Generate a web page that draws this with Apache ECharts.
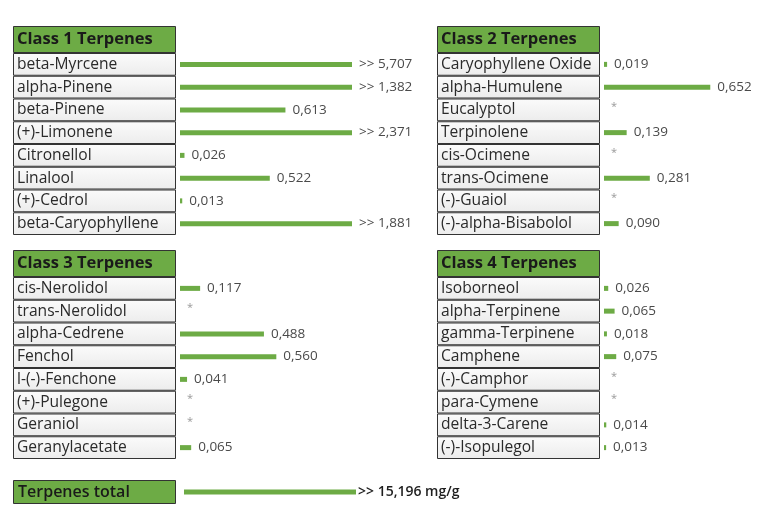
<!DOCTYPE html>
<html><head><meta charset="utf-8">
<script src="https://cdn.jsdelivr.net/npm/echarts@6/dist/echarts.min.js"></script>
<style>html,body{margin:0;padding:0;background:#fff}#c{width:767px;height:512px}</style>
</head><body><div id="c"></div>
<script>
const class1Title = 'Class 1 Terpenes';
const class1Names = ['beta-Myrcene','alpha-Pinene','beta-Pinene','(+)-Limonene','Citronellol','Linalool','(+)-Cedrol','beta-Caryophyllene'];
const class1Values = [5.707, 1.382, 0.613, 2.371, 0.026, 0.522, 0.013, 1.881];

const class2Title = 'Class 2 Terpenes';
const class2Names = ['Caryophyllene Oxide','alpha-Humulene','Eucalyptol','Terpinolene','cis-Ocimene','trans-Ocimene','(-)-Guaiol','(-)-alpha-Bisabolol'];
const class2Values = [0.019, 0.652, null, 0.139, null, 0.281, null, 0.090];

const class3Title = 'Class 3 Terpenes';
const class3Names = ['cis-Nerolidol','trans-Nerolidol','alpha-Cedrene','Fenchol','l-(-)-Fenchone','(+)-Pulegone','Geraniol','Geranylacetate'];
const class3Values = [0.117, null, 0.488, 0.560, 0.041, null, null, 0.065];

const class4Title = 'Class 4 Terpenes';
const class4Names = ['Isoborneol','alpha-Terpinene','gamma-Terpinene','Camphene','(-)-Camphor','para-Cymene','delta-3-Carene','(-)-Isopulegol'];
const class4Values = [0.026, 0.065, 0.018, 0.075, null, null, 0.014, 0.013];

const totalLabel = 'Terpenes total';
const totalValue = 15.196;
const totalUnit = 'mg/g';

const AXIS_MAX = 1;   // bars longer than this are shown capped with ">>"
const GREEN = '#6dab45';
const FONT = 'Open Sans';

function fmt(v){ return v.toFixed(3).replace('.', ','); }
function valLabel(v){
  if (v === null || v === undefined) return '{star|*}';
  return (v > AXIS_MAX ? '>> ' : '') + fmt(v);
}

const panels = [
  {title: class1Title, names: class1Names, values: class1Values, left: 13, top: 26},
  {title: class2Title, names: class2Names, values: class2Values, left: 437, top: 26},
  {title: class3Title, names: class3Names, values: class3Values, left: 13, top: 250},
  {title: class4Title, names: class4Names, values: class4Values, left: 437, top: 250}
];

const grid = [], xAxis = [], yAxis = [], series = [];
const cellGradient = new echarts.graphic.LinearGradient(0,0,0,1,[{offset:0,color:'#fbfbfb'},{offset:1,color:'#ececec'}]);

function addGrid(g, cats){
  const i = grid.length;
  grid.push(Object.assign({containLabel:false}, g));
  xAxis.push({type:'value', gridIndex:i, min:0, max:AXIS_MAX, show:false});
  yAxis.push({type:'category', gridIndex:i, data:cats, inverse:true, show:false});
  return i;
}

const TABLE_W = 163, HEADER_H = 27, ROW_H = 22.75, BAR_GAP = 4, BAR_W = 172;

panels.forEach(p => {
  // header
  const hi = addGrid({left:p.left, top:p.top, width:TABLE_W, height:HEADER_H}, [p.title]);
  series.push({type:'bar', xAxisIndex:hi, yAxisIndex:hi, data:[AXIS_MAX], barWidth:'100%', silent:true,
    itemStyle:{color:GREEN, borderColor:'#333', borderWidth:1},
    label:{show:true, position:'insideLeft', distance:4, formatter:'{b}', color:'#1a1a1a', fontFamily:FONT, fontWeight:'bold', fontSize:16.5, padding:[4,0,0,0]}});
  // rows table
  const rowsTop = p.top + HEADER_H, rowsH = ROW_H * p.names.length;
  const ti = addGrid({left:p.left, top:rowsTop, width:TABLE_W, height:rowsH}, p.names);
  series.push({type:'bar', xAxisIndex:ti, yAxisIndex:ti, data:p.names.map(()=>AXIS_MAX), barCategoryGap:'0%', silent:true,
    itemStyle:{color:cellGradient, borderColor:'#333', borderWidth:1},
    label:{show:true, position:'insideLeft', distance:4, formatter:'{b}', color:'#2a2a2a', fontFamily:FONT, fontSize:15.6}});
  // value bars
  const bi = addGrid({left:p.left + TABLE_W + BAR_GAP, top:rowsTop, width:BAR_W, height:rowsH}, p.names);
  const vals = p.values;
  series.push({type:'bar', xAxisIndex:bi, yAxisIndex:bi, barWidth:5, silent:true,
    data: vals.map(v => v === null ? 0 : Math.min(v, AXIS_MAX)),
    itemStyle:{color:GREEN},
    label:{show:true, position:'right', distance:7, color:'#4a4a4a', fontFamily:FONT, fontSize:13.5,
      formatter: prm => valLabel(vals[prm.dataIndex]),
      rich:{star:{color:'#999', fontSize:11, padding:[0,0,6,0], fontFamily:FONT}}}});
});

// total
const tTop = 480, tH = 24;
const ti2 = addGrid({left:13, top:tTop, width:TABLE_W, height:tH}, [totalLabel]);
series.push({type:'bar', xAxisIndex:ti2, yAxisIndex:ti2, data:[AXIS_MAX], barWidth:'100%', silent:true,
  itemStyle:{color:GREEN, borderColor:'#333', borderWidth:1},
  label:{show:true, position:'insideLeft', distance:5, formatter:'{b}', color:'#1a1a1a', fontFamily:FONT, fontWeight:600, fontSize:16, padding:[3,0,0,0]}});
const tb = addGrid({left:184, top:tTop, width:BAR_W, height:tH}, [totalLabel]);
series.push({type:'bar', xAxisIndex:tb, yAxisIndex:tb, barWidth:5, silent:true,
  data:[Math.min(totalValue, AXIS_MAX)], itemStyle:{color:GREEN},
  label:{show:true, position:'right', distance:2, color:'#1e1e1e', fontFamily:FONT, fontSize:14, fontWeight:600,
    formatter: () => valLabel(totalValue) + ' ' + totalUnit}});

const chart = echarts.init(document.getElementById('c'), null, {renderer:'canvas'});
chart.setOption({animation:false, backgroundColor:'#fff', grid, xAxis, yAxis, series});
</script></body></html>
